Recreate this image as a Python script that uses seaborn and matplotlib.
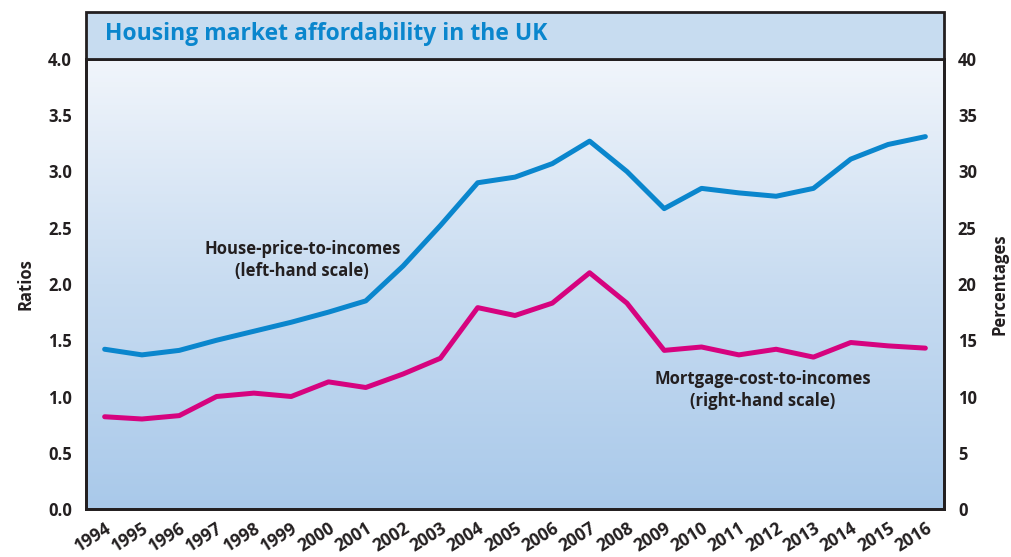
import numpy as np
import pandas as pd
import matplotlib
matplotlib.use("Agg")
import matplotlib.pyplot as plt
import seaborn as sns
from matplotlib.patches import Rectangle
from matplotlib.colors import LinearSegmentedColormap

# Data
years = list(range(1994, 2017))
house_price_ratio = [1.42, 1.37, 1.41, 1.50, 1.58, 1.66, 1.75, 1.85, 2.16, 2.52, 2.90,
                     2.95, 3.07, 3.27, 3.00, 2.67, 2.85, 2.81, 2.78, 2.85, 3.11, 3.24, 3.31]
mortgage_cost_pct = [8.2, 8.0, 8.3, 10.0, 10.3, 10.0, 11.3, 10.8, 12.0, 13.4, 17.9,
                     17.2, 18.3, 21.0, 18.3, 14.1, 14.4, 13.7, 14.2, 13.5, 14.8, 14.5, 14.3]
left_ticks = [0.0, 0.5, 1.0, 1.5, 2.0, 2.5, 3.0, 3.5, 4.0]
right_ticks = [0, 5, 10, 15, 20, 25, 30, 35, 40]

df = pd.DataFrame({"year": years, "house": house_price_ratio, "mortgage": mortgage_cost_pct})

sns.set_style("white")
plt.rcParams['font.family'] = ['Open Sans', 'DejaVu Sans']
plt.rcParams['font.weight'] = 'bold'

dark = "#231f20"
blue = "#0a86cd"
pink = "#d6037f"

fig = plt.figure(figsize=(10.11, 5.57), dpi=100)
W, H = 1011, 557
x0, x1, ytop, ybot, yband = 86, 944, 59, 509, 12
ax = fig.add_axes([x0 / W, (H - ybot) / H, (x1 - x0) / W, (ybot - ytop) / H])

# title band
band = Rectangle((x0 / W, (H - ytop) / H), (x1 - x0) / W, (ytop - yband) / H,
                 transform=fig.transFigure, facecolor="#c7dcf0", edgecolor=dark,
                 linewidth=2, zorder=5)
fig.patches.append(band)
fig.text((x0 + 19) / W, (H - 34) / H, "Housing market affordability in the UK",
         color=blue, fontsize=16.5, fontweight='bold', va='center', ha='left', zorder=6)

# gradient background
cmap = LinearSegmentedColormap.from_list("bg", ["#a9c9ea", "#c8dcf1", "#f1f5fb"])
grad = np.linspace(0, 1, 256).reshape(-1, 1)
ax.imshow(grad, cmap=cmap, origin='lower', aspect='auto',
          extent=[1993.5, 2016.5, 0, 4], zorder=0)

sns.lineplot(data=df, x="year", y="house", ax=ax, color=blue, linewidth=3.6, zorder=3)
ax2 = ax.twinx()
sns.lineplot(data=df, x="year", y="mortgage", ax=ax2, color=pink, linewidth=3.6, zorder=3)

ax.set_xlim(1993.5, 2016.5)
ax.set_ylim(0, 4)
ax2.set_ylim(0, 40)
ax.set_yticks(left_ticks)
ax.set_yticklabels([f"{v:.1f}" for v in left_ticks])
ax2.set_yticks(right_ticks)
ax2.set_yticklabels([str(v) for v in right_ticks])
ax.set_xticks(years)
ax.set_xticklabels([str(y) for y in years], rotation=32, ha='right',
                   rotation_mode='anchor')

for a in (ax, ax2):
    a.tick_params(length=0, labelsize=12, colors=dark, pad=10)
    for s in a.spines.values():
        s.set_color(dark)
        s.set_linewidth(2)
ax.tick_params(axis='x', pad=7, labelsize=12.5)

ax.set_xlabel("")
ax.set_ylabel("Ratios", fontsize=12, color=dark, fontweight='bold', labelpad=10)
ax2.set_ylabel("Percentages", fontsize=12, color=dark, fontweight='bold',
               rotation=90, labelpad=10)

ax.text(1999.3, 2.21, "House-price-to-incomes\n(left-hand scale)", ha='center',
        va='center', fontsize=12, color=dark, fontweight='bold', linespacing=1.3)
ax.text(2011.65, 1.06, "Mortgage-cost-to-incomes\n(right-hand scale)", ha='center',
        va='center', fontsize=12, color=dark, fontweight='bold', linespacing=1.3)

fig.savefig("out.png", dpi=100)
